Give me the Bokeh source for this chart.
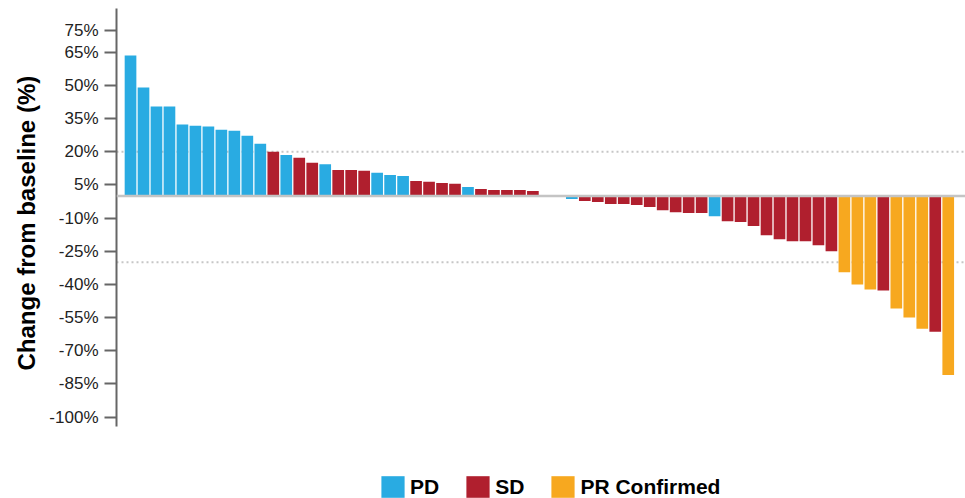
from bokeh.plotting import figure
from bokeh.models import (ColumnDataSource, FixedTicker, PrintfTickFormatter,
                          Span, Legend, LegendItem, Range1d, Title)
from bokeh.embed import file_html
from bokeh.resources import INLINE

# Best percentage change from baseline, one bar per patient (sorted)
change = [63.6, 49.1, 40.5, 40.5, 32.3, 31.8, 31.4, 30.0, 29.5, 27.3,
          23.6, 20.0, 18.6, 17.3, 15.0, 14.4, 11.8, 11.8, 11.4, 10.5,
          9.5, 9.1, 6.8, 6.4, 5.9, 5.5, 4.1, 3.2, 2.7, 2.7,
          2.7, 2.3, 0.0, 0.0, -1.4, -2.3, -2.7, -3.6, -3.6, -4.1,
          -5.0, -6.4, -7.3, -7.7, -7.7, -9.1, -11.4, -11.8, -13.6, -17.7,
          -19.5, -20.5, -20.5, -22.3, -25.0, -34.5, -40.0, -42.3, -42.7, -50.9,
          -55.0, -60.0, -61.4, -80.9]

# Best overall response for each patient
response = ["PD", "PD", "PD", "PD", "PD", "PD", "PD", "PD", "PD", "PD",
            "PD", "SD", "PD", "SD", "SD", "PD", "SD", "SD", "SD", "PD",
            "PD", "PD", "SD", "SD", "SD", "SD", "PD", "SD", "SD", "SD",
            "SD", "SD", "SD", "SD", "PD", "SD", "SD", "SD", "SD", "SD",
            "SD", "SD", "SD", "SD", "SD", "PD", "SD", "SD", "SD", "SD",
            "SD", "SD", "SD", "SD", "SD", "PR Confirmed", "PR Confirmed",
            "PR Confirmed", "SD", "PR Confirmed",
            "PR Confirmed", "PR Confirmed", "SD", "PR Confirmed"]

categories = ["PD", "SD", "PR Confirmed"]
palette = {"PD": "#29abe2", "SD": "#b01f2e", "PR Confirmed": "#f7a81f"}

y_ticks = [75, 65, 50, 35, 20, 5, -10, -25, -40, -55, -70, -85, -100]
axis_span = (-104.2, 84.8)
thresholds = [20, -30]

FONT = "Liberation Sans"

positions = list(range(len(change)))

# the plotting area runs down to the bottom edge so the legend can sit
# inside it, under the bars; the y axis line itself stops at axis_span
p = figure(width=965, height=498, output_backend="svg", toolbar_location=None,
           x_axis_location=None,
           x_range=Range1d(-1.08, len(change) + 0.33),
           y_range=Range1d(-136.8, axis_span[1]),
           min_border_left=116, min_border_right=0,
           min_border_top=8, min_border_bottom=0)
p.outline_line_color = None
p.grid.visible = False
p.background_fill_color = "white"
p.border_fill_color = "white"

# response thresholds (dotted), drawn beneath the bars
for t in thresholds:
    p.add_layout(Span(location=t, dimension="width", line_color="#c6c6c6",
                      line_width=2, line_dash="2 3", level="underlay"))

renderers = {}
for cat in categories:
    idx = [i for i, r in enumerate(response) if r == cat]
    src = ColumnDataSource(dict(x=[positions[i] for i in idx],
                                top=[change[i] for i in idx]))
    renderers[cat] = p.vbar(x="x", top="top", bottom=0, width=0.9, source=src,
                            fill_color=palette[cat], line_color=None)

# baseline
p.add_layout(Span(location=0, dimension="width", line_color="#c4c4c4",
                  line_width=2.5))

ax = p.yaxis[0]
ax.bounds = axis_span
ax.ticker = FixedTicker(ticks=y_ticks)
ax.formatter = PrintfTickFormatter(format="%d%%")
ax.axis_line_color = "#666666"
ax.axis_line_width = 2
ax.major_tick_line_color = "#666666"
ax.major_tick_line_width = 2
ax.major_tick_out = 12
ax.major_tick_in = 0
ax.minor_tick_line_color = None
ax.major_label_standoff = 6
ax.major_label_text_font = FONT
ax.major_label_text_font_size = "17px"
ax.major_label_text_color = "#222222"

# y axis title, positioned along the axis line rather than the whole area
ytitle = Title(text="Change from baseline (%)", align="left", offset=128,
               text_font=FONT, text_font_size="24px", text_font_style="bold",
               text_color="#000000", standoff=14)
p.add_layout(ytitle, "left")

legend = Legend(items=[LegendItem(label=c, renderers=[renderers[c]]) for c in categories],
                orientation="horizontal", location=(262, -2),
                glyph_width=29, glyph_height=27, label_standoff=3, spacing=24,
                padding=0, margin=0, border_line_color=None,
                background_fill_alpha=0, label_height=22,
                label_text_font=FONT, label_text_font_size="21px",
                label_text_font_style="bold", label_text_color="#000000")
p.add_layout(legend, "center")

open("out.html", "w").write(file_html(p, INLINE))
